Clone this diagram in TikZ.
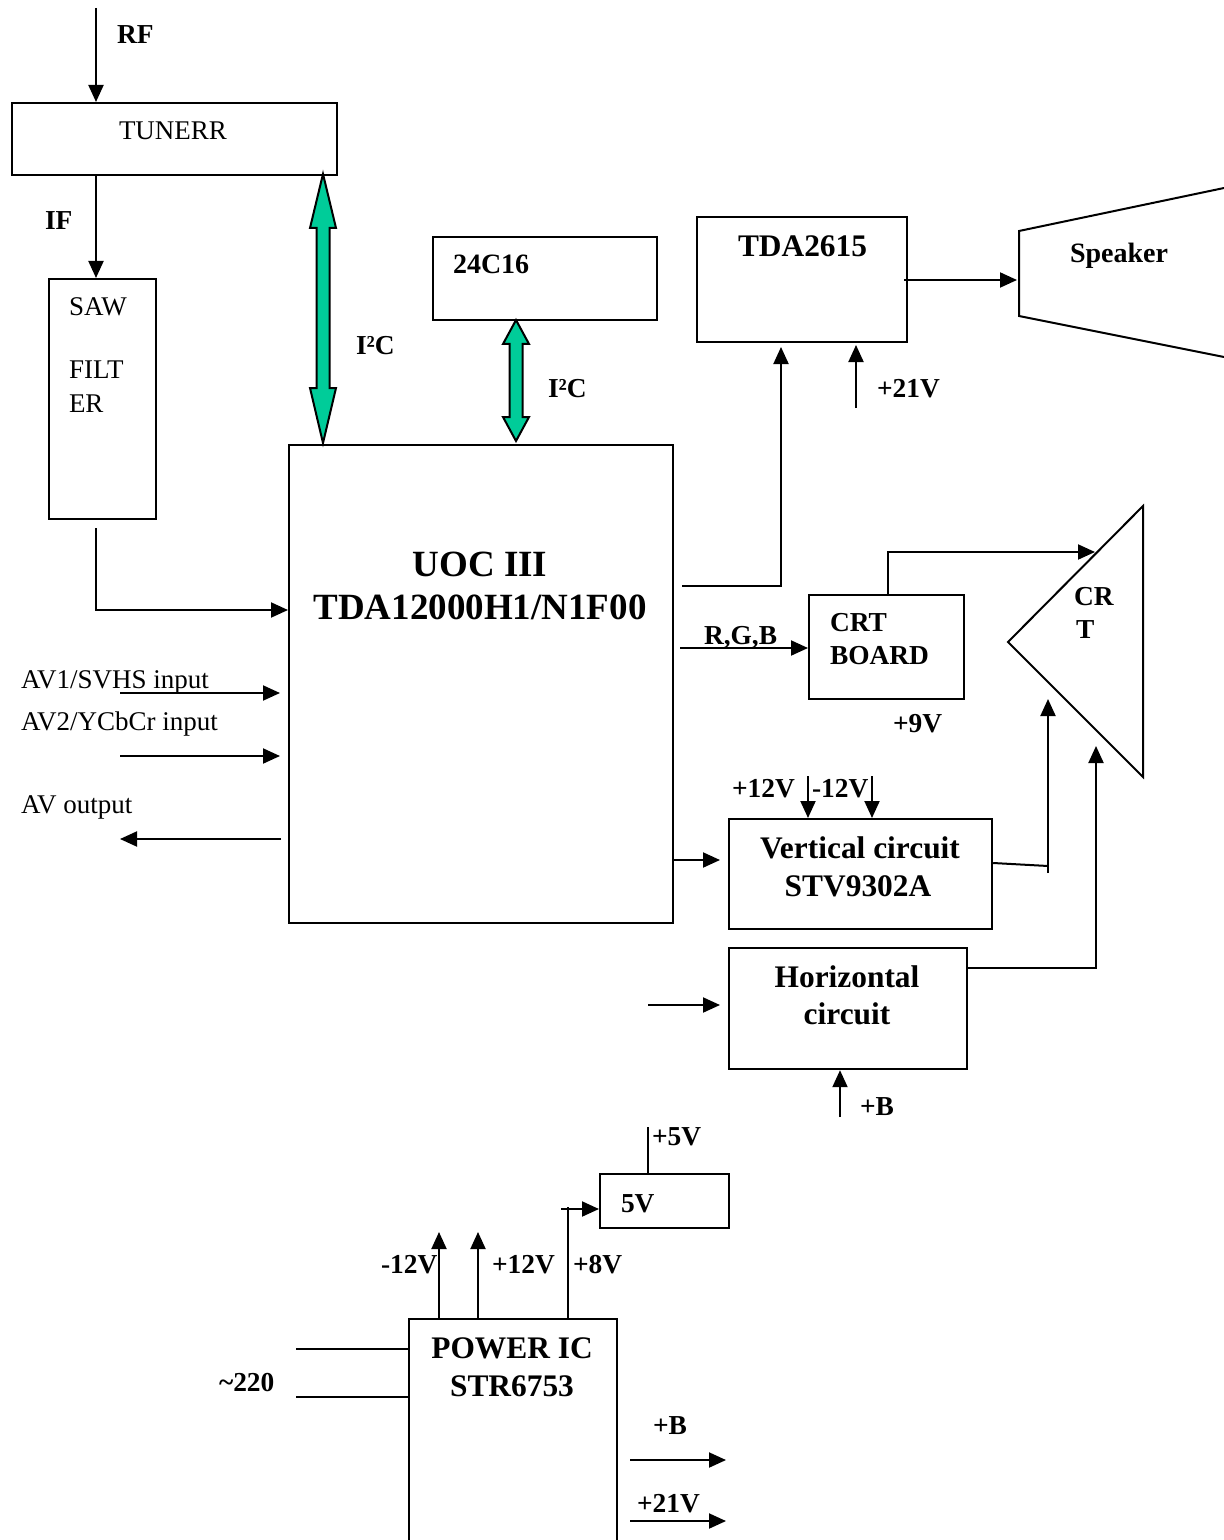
\documentclass[tikz,border=0pt]{standalone}
\usepackage{fontspec}
\setmainfont{Liberation Serif}
\usetikzlibrary{arrows.meta}
\definecolor{busgreen}{RGB}{0,204,153}
\begin{document}
\begin{tikzpicture}[x=0.5pt,y=-0.5pt,line width=1pt,
  box/.style={draw,line width=1.1pt,anchor=north west,inner sep=0pt},
  reg/.style={font=\fontsize{13.5}{16}\selectfont,inner sep=0pt},
  lab/.style={font=\fontsize{13.7}{16}\selectfont\bfseries,inner sep=0pt},
  mid/.style={font=\fontsize{15.7}{19}\selectfont\bfseries,inner sep=0pt},
  big/.style={font=\fontsize{18.5}{22}\selectfont\bfseries,inner sep=0pt},
  arr/.style={-{Triangle[length=8.5pt,width=7.5pt]},line width=1pt},
  bus/.style={draw=black,fill=busgreen,line width=1pt,line join=miter}]
\clip (0,0) rectangle (1224,1540);
\fill[white] (0,0) rectangle (1224,1540);
% boxes
\node[box,minimum width=162.5pt,minimum height=36pt] (tuner) at (11,102) {};
\node[box,minimum width=53.5pt,minimum height=120pt] (saw) at (48,278) {};
\node[box,minimum width=192pt,minimum height=239pt] (uoc) at (288,444) {};
\node[box,minimum width=112pt,minimum height=41.5pt] (eeprom) at (432,236) {};
\node[box,minimum width=105pt,minimum height=62.5pt] (tda) at (696,216) {};
\node[box,minimum width=77.5pt,minimum height=52pt] (crtb) at (808,594) {};
\node[box,minimum width=131.5pt,minimum height=55pt] (vert) at (728,818) {};
\node[box,minimum width=119pt,minimum height=60.5pt] (hor) at (728,947) {};
\node[box,minimum width=64.5pt,minimum height=27pt] (fivev) at (599,1173) {};
\node[box,minimum width=104pt,minimum height=130pt] (power) at (408,1318) {};
% speaker and CRT
\draw[line join=miter] (1224,188) -- (1019,231) -- (1019,316) -- (1224,357);
\draw[line join=miter] (1143,506) -- (1008,642) -- (1143,777) -- cycle;
% texts
\node[lab,anchor=base west] (trf) at (116,44) {RF};
\node[reg,anchor=base west] (ttuner) at (118,140) {TUNERR};
\node[lab,anchor=base west] (tif) at (44,230) {IF};
\node[reg,anchor=base west] (tsaw1) at (68,315) {SAW};
\node[reg,anchor=base west] (tsaw2) at (68,379) {FILT};
\node[reg,anchor=base west] (tsaw3) at (68,412) {ER};
\node[lab,anchor=base west] (ti2c1) at (355,355) {I²C};
\node[lab,anchor=base west] (ti2c2) at (547,397) {I²C};
\node[lab,anchor=base west,font=\fontsize{14}{16}\selectfont\bfseries] (teeprom) at (452,274) {24C16};
\node[mid,anchor=base west] (ttda) at (737,257) {TDA2615};
\node[lab,anchor=base west,font=\fontsize{14}{16}\selectfont\bfseries] (tspk) at (1069,263) {Speaker};
\node[big,anchor=base] (tuoc1) at (480,576) {UOC III};
\node[big,anchor=base] (tuoc2) at (480,619) {TDA12000H1/N1F00};
\node[lab,anchor=base west] (t21a) at (876,397) {+21V};
\node[lab,anchor=base west] (tcr1) at (1073,605) {CR};
\node[lab,anchor=base west] (tcr2) at (1075,638) {T};
\node[lab,anchor=base west] (trgb) at (703,644) {R,G,B};
\node[lab,anchor=base west] (tcrtb1) at (829,631) {CRT};
\node[lab,anchor=base west] (tcrtb2) at (829,664) {BOARD};
\node[lab,anchor=base west] (t9v) at (892,732) {+9V};
\node[lab,anchor=base west] (t12p) at (731,797) {+12V};
\node[lab,anchor=base west] (t12m) at (811,797) {-12V};
\node[mid,anchor=base] (tvert1) at (860,858) {Vertical circuit};
\node[mid,anchor=base] (tvert2) at (858,896) {STV9302A};
\node[mid,anchor=base] (thor1) at (847,987) {Horizontal};
\node[mid,anchor=base] (thor2) at (847,1024) {circuit};
\node[lab,anchor=base west] (tbh) at (859,1115) {+B};
\node[lab,anchor=base west] (t5vl) at (651,1145) {+5V};
\node[lab,anchor=base west] (t5v) at (620,1212) {5V};
\node[lab,anchor=base west] (tm12) at (380,1273) {-12V};
\node[lab,anchor=base west] (tp12) at (491,1273) {+12V};
\node[lab,anchor=base west] (tp8) at (572,1273) {+8V};
\node[mid,anchor=base] (tpow1) at (512,1358) {POWER IC};
\node[mid,anchor=base] (tpow2) at (512,1396) {STR6753};
\node[lab,anchor=base west] (tbp) at (652,1434) {+B};
\node[lab,anchor=base west] (t21b) at (636,1512) {+21V};
\node[lab,anchor=base west] (t220) at (218,1391) {\textasciitilde220};
\node[reg,anchor=base west] (tav1) at (20,688) {AV1/SVHS input};
\node[reg,anchor=base west] (tav2) at (20,730) {AV2/YCbCr input};
\node[reg,anchor=base west] (tavo) at (20,813) {AV output};
% I2C buses
\draw[bus] (323,174) -- (336,228) -- (329.5,228) -- (329.5,388) -- (336,388) -- (323,443)
  -- (310,388) -- (316.5,388) -- (316.5,228) -- (310,228) -- cycle;
\draw[bus] (516,320) -- (529,344) -- (522.5,344) -- (522.5,417) -- (529,417) -- (516,441)
  -- (503,417) -- (509.5,417) -- (509.5,344) -- (503,344) -- cycle;
% connectors
\coordinate (rfin) at (96,8);
\draw[arr] (rfin) -- (rfin |- tuner.north);
\draw[arr] (tuner.south -| rfin) -- (saw.north -| rfin);
\coordinate (sawout) at (96,528);
\draw[arr] (sawout) -- (96,610) -- (uoc.west |- 96,610);
\coordinate (uocaud) at (682,586);
\draw[arr] (uocaud) -- (781,586) -- (781,347);
\coordinate (p21) at (856,408);
\draw[arr] (p21) -- (856,345);
\draw[arr] (904,280) -- (1017,280);
\draw[arr] (crtb.north -| 888,0) -- (888,552) -- (1095,552);
\coordinate (rgbin) at (680,648);
\draw[arr] (rgbin) -- (crtb.west |- rgbin);
\draw[arr] (uoc.east |- 0,860) -- (720,860);
\draw[arr] (808,776) -- (vert.north -| 808,0);
\draw[arr] (872,776) -- (vert.north -| 872,0);
\draw (vert.east |- 0,863) -- (1048,866);
\draw[arr] (1048,873) -- (1048,699);
\draw[arr] (648,1005) -- (720,1005);
\draw[arr] (hor.east |- 0,968) -- (1096,968) -- (1096,746);
\draw[arr] (840,1117) -- (hor.south -| 840,0);
\draw (648,1127) -- (fivev.north -| 648,0);
\draw (power.north -| 568,0) -- (568,1207);
\draw[arr] (561,1209) -- (fivev.west |- 0,1209);
\draw[arr] (power.north -| 439,0) -- (439,1232);
\draw[arr] (power.north -| 478,0) -- (478,1232);
\draw (296,1349) -- (power.west |- 0,1349);
\draw (296,1397) -- (power.west |- 0,1397);
\draw[arr] (630,1460) -- (726,1460);
\draw[arr] (630,1521) -- (726,1521);
\draw[arr] (120,693) -- (280,693);
\draw[arr] (120,756) -- (280,756);
\draw[arr] (281,839) -- (120,839);
\end{tikzpicture}
\end{document}
